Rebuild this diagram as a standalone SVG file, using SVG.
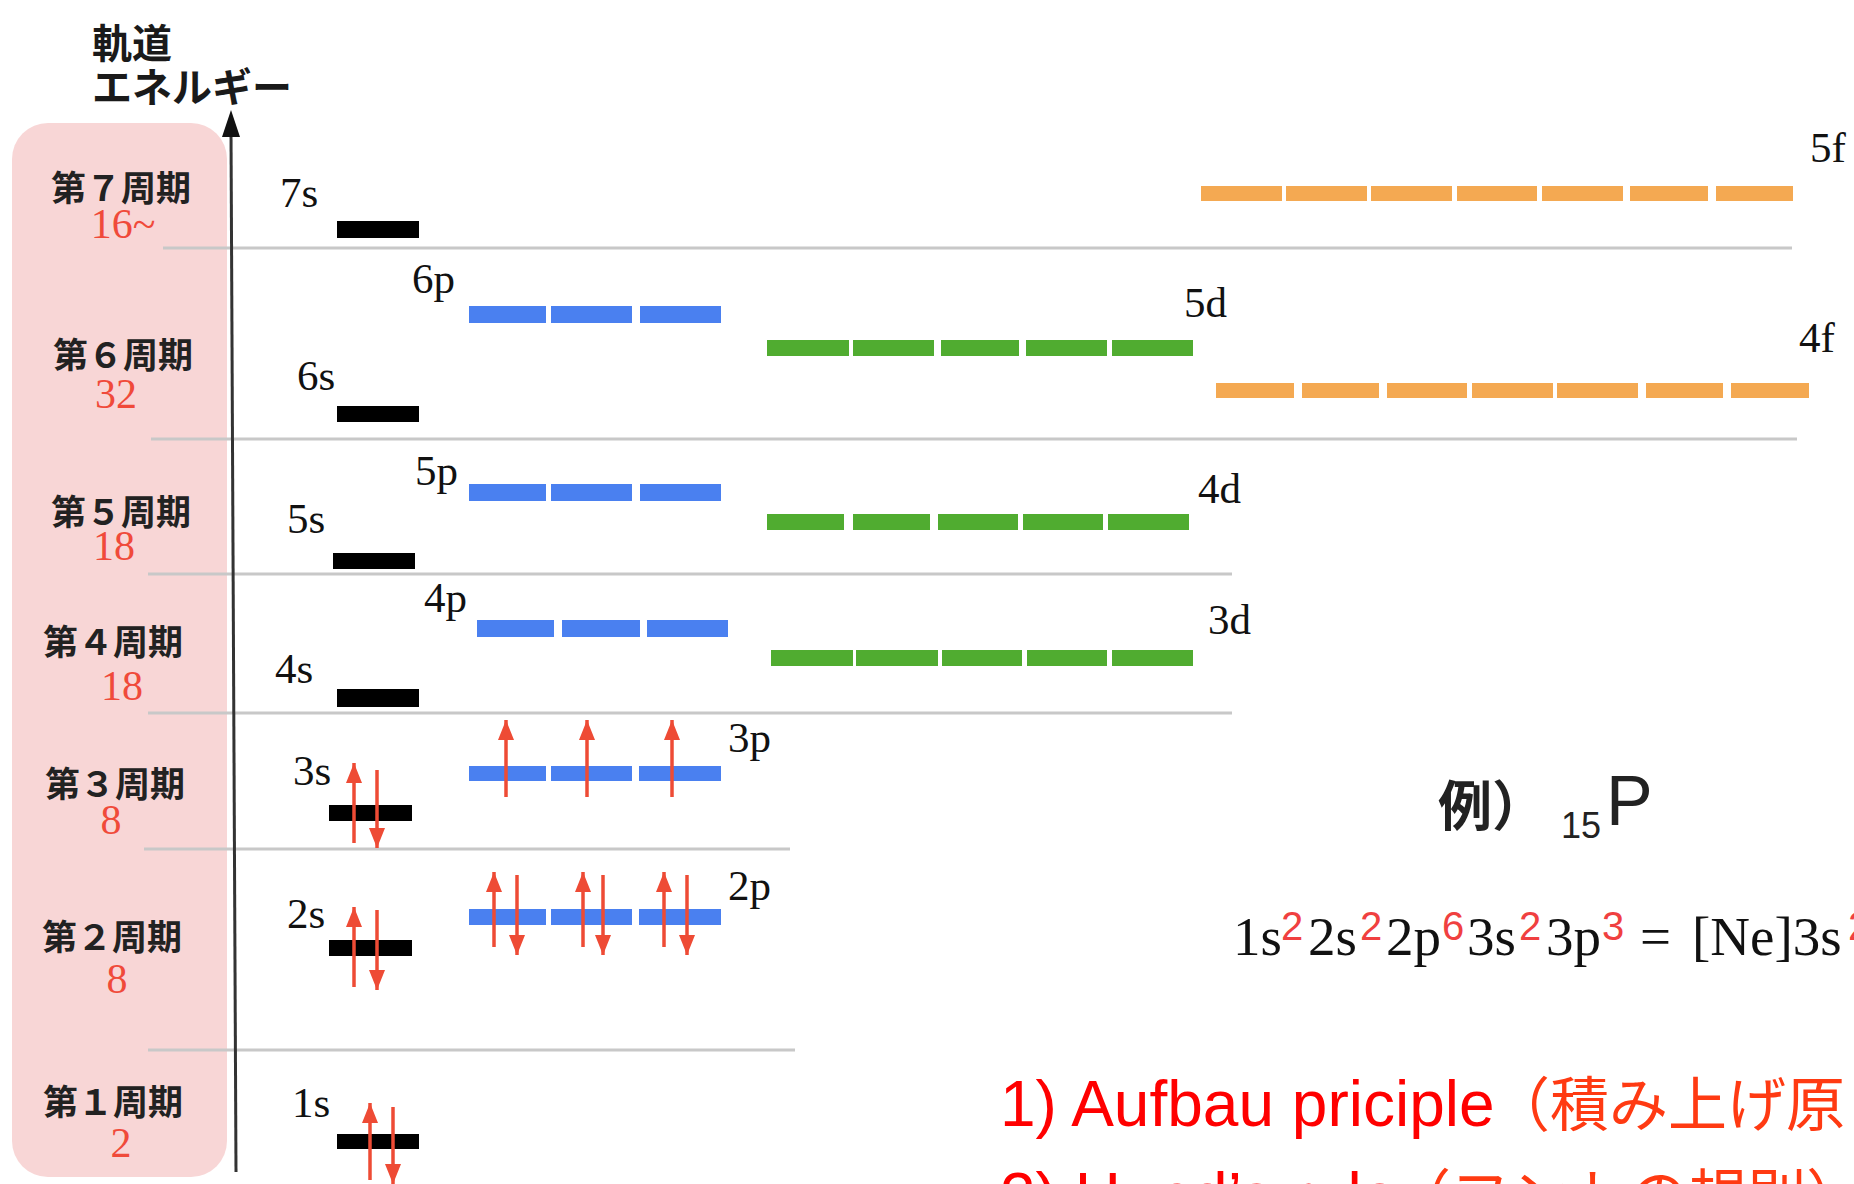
<svg xmlns="http://www.w3.org/2000/svg" width="1854" height="1184" viewBox="0 0 1854 1184">
<style>
.bg{fill:#ffffff}
.band{fill:#f8d6d6}
.sep{stroke:#c8c8c8;stroke-width:3;fill:none}
.axis{stroke:#333;stroke-width:3;fill:none}
.s{fill:#000}
.p{fill:#4a80f0}
.d{fill:#50ac30}
.f{fill:#f4a952}
.lbl{font-family:"Liberation Serif","Times New Roman",serif;font-size:43px;fill:#111}
.per{font-family:"Noto Sans CJK JP",sans-serif;font-weight:bold;font-size:35px;text-anchor:middle;fill:#222}
.num{font-family:"Liberation Serif",serif;font-size:42px;fill:#f04a3a;text-anchor:middle}
.ax{font-family:"Noto Sans CJK JP",sans-serif;font-weight:bold;font-size:40px;fill:#1a1a1a}
.e{stroke:#ee4b35;stroke-width:3.5;fill:none;marker-end:url(#ah)}
.cfg{font-family:"Liberation Serif",serif;font-size:55px;fill:#111}
.sup{font-family:"Liberation Sans",sans-serif;font-size:40px;fill:#f04040}
.rule{font-family:"Liberation Sans","Noto Sans CJK JP",sans-serif;font-size:64px;fill:#ff0000}
.jp{font-family:"Noto Sans CJK JP",sans-serif;font-size:59px;fill:#ff3a12}
</style>
<defs>
<marker id="ah" viewBox="0 0 20 16" refX="20" refY="8" markerWidth="20" markerHeight="16" markerUnits="userSpaceOnUse" orient="auto">
<path d="M0,0 L20,8 L0,16 Z" fill="#ee4b35"/>
</marker>
</defs>
<rect class="bg" x="0" y="0" width="1854" height="1184"/>

<g id="period-band">
<rect class="band" x="12" y="123" width="215" height="1054" rx="36" ry="36"/>
</g>

<g id="connectors">
<line class="sep" x1="163" y1="248" x2="1792" y2="248"/>
<line class="sep" x1="151" y1="439" x2="1797" y2="439"/>
<line class="sep" x1="148" y1="574" x2="1232" y2="574"/>
<line class="sep" x1="148" y1="713" x2="1232" y2="713"/>
<line class="sep" x1="144" y1="849" x2="790" y2="849"/>
<line class="sep" x1="148" y1="1050" x2="795" y2="1050"/>
<line class="axis" x1="231" y1="132" x2="236" y2="1172"/>
<path d="M231,110 L240,137 L222,137 Z" fill="#111"/>
</g>

<g id="axis-label">
<text class="ax" x="92" y="58">軌道</text>
<text class="ax" x="92" y="102">エネルギー</text>
</g>

<g id="period-7"><text class="per" x="121" y="201">第７周期</text><text class="num" x="123" y="238">16~</text></g>
<g id="period-6"><text class="per" x="123" y="368">第６周期</text><text class="num" x="116" y="408">32</text></g>
<g id="period-5"><text class="per" x="121" y="525">第５周期</text><text class="num" x="114" y="560">18</text></g>
<g id="period-4"><text class="per" x="113" y="655">第４周期</text><text class="num" x="122" y="700">18</text></g>
<g id="period-3"><text class="per" x="115" y="797">第３周期</text><text class="num" x="111" y="834">8</text></g>
<g id="period-2"><text class="per" x="112" y="950">第２周期</text><text class="num" x="117" y="993">8</text></g>
<g id="period-1"><text class="per" x="113" y="1115">第１周期</text><text class="num" x="121" y="1157">2</text></g>

<g id="orb-7s"><text class="lbl" x="280" y="207">7s</text><rect class="s" x="337" y="221" width="82" height="17"/></g>
<g id="orb-6s"><text class="lbl" x="297" y="390">6s</text><rect class="s" x="337" y="406" width="82" height="16"/></g>
<g id="orb-5s"><text class="lbl" x="287" y="533">5s</text><rect class="s" x="333" y="553" width="82" height="16"/></g>
<g id="orb-4s"><text class="lbl" x="275" y="683">4s</text><rect class="s" x="337" y="689" width="82" height="18"/></g>
<g id="orb-3s"><text class="lbl" x="293" y="785">3s</text><rect class="s" x="329" y="805" width="83" height="16"/>
<line class="e" x1="354" y1="843" x2="354" y2="763"/><line class="e" x1="377" y1="770" x2="377" y2="848"/></g>
<g id="orb-2s"><text class="lbl" x="287" y="928">2s</text><rect class="s" x="329" y="940" width="83" height="16"/>
<line class="e" x1="354" y1="987" x2="354" y2="907"/><line class="e" x1="377" y1="910" x2="377" y2="990"/></g>
<g id="orb-1s"><text class="lbl" x="292" y="1117">1s</text><rect class="s" x="337" y="1134" width="82" height="15"/>
<line class="e" x1="370" y1="1180" x2="370" y2="1103"/><line class="e" x1="393" y1="1107" x2="393" y2="1184"/></g>

<g id="orb-6p"><text class="lbl" x="412" y="293">6p</text>
<rect class="p" x="469" y="306" width="77" height="17"/><rect class="p" x="551" y="306" width="81" height="17"/><rect class="p" x="640" y="306" width="81" height="17"/></g>
<g id="orb-5p"><text class="lbl" x="415" y="485">5p</text>
<rect class="p" x="469" y="484" width="77" height="17"/><rect class="p" x="551" y="484" width="81" height="17"/><rect class="p" x="640" y="484" width="81" height="17"/></g>
<g id="orb-4p"><text class="lbl" x="424" y="612">4p</text>
<rect class="p" x="477" y="620" width="77" height="17"/><rect class="p" x="562" y="620" width="78" height="17"/><rect class="p" x="647" y="620" width="81" height="17"/></g>
<g id="orb-3p"><text class="lbl" x="728" y="752">3p</text>
<rect class="p" x="469" y="766" width="77" height="15"/><rect class="p" x="551" y="766" width="81" height="15"/><rect class="p" x="639" y="766" width="82" height="15"/>
<line class="e" x1="506" y1="797" x2="506" y2="720"/><line class="e" x1="587" y1="797" x2="587" y2="720"/><line class="e" x1="672" y1="797" x2="672" y2="720"/></g>
<g id="orb-2p"><text class="lbl" x="728" y="900">2p</text>
<rect class="p" x="469" y="909" width="77" height="16"/><rect class="p" x="551" y="909" width="81" height="16"/><rect class="p" x="639" y="909" width="82" height="16"/>
<line class="e" x1="494" y1="947" x2="494" y2="872"/><line class="e" x1="517" y1="875" x2="517" y2="955"/>
<line class="e" x1="583" y1="947" x2="583" y2="872"/><line class="e" x1="603" y1="875" x2="603" y2="955"/>
<line class="e" x1="664" y1="947" x2="664" y2="872"/><line class="e" x1="687" y1="875" x2="687" y2="955"/></g>

<g id="orb-5d"><text class="lbl" x="1184" y="317">5d</text>
<rect class="d" x="767" y="340" width="82" height="16"/><rect class="d" x="853" y="340" width="81" height="16"/><rect class="d" x="941" y="340" width="78" height="16"/><rect class="d" x="1026" y="340" width="81" height="16"/><rect class="d" x="1112" y="340" width="81" height="16"/></g>
<g id="orb-4d"><text class="lbl" x="1198" y="503">4d</text>
<rect class="d" x="767" y="514" width="77" height="16"/><rect class="d" x="853" y="514" width="77" height="16"/><rect class="d" x="938" y="514" width="80" height="16"/><rect class="d" x="1023" y="514" width="80" height="16"/><rect class="d" x="1108" y="514" width="81" height="16"/></g>
<g id="orb-3d"><text class="lbl" x="1208" y="634">3d</text>
<rect class="d" x="771" y="650" width="82" height="16"/><rect class="d" x="856" y="650" width="82" height="16"/><rect class="d" x="942" y="650" width="80" height="16"/><rect class="d" x="1027" y="650" width="80" height="16"/><rect class="d" x="1112" y="650" width="81" height="16"/></g>

<g id="orb-5f"><text class="lbl" x="1810" y="162">5f</text>
<rect class="f" x="1201" y="186" width="81" height="15"/><rect class="f" x="1286" y="186" width="81" height="15"/><rect class="f" x="1371" y="186" width="81" height="15"/><rect class="f" x="1457" y="186" width="80" height="15"/><rect class="f" x="1542" y="186" width="81" height="15"/><rect class="f" x="1630" y="186" width="78" height="15"/><rect class="f" x="1716" y="186" width="77" height="15"/></g>
<g id="orb-4f"><text class="lbl" x="1799" y="352">4f</text>
<rect class="f" x="1216" y="383" width="78" height="15"/><rect class="f" x="1302" y="383" width="77" height="15"/><rect class="f" x="1387" y="383" width="80" height="15"/><rect class="f" x="1472" y="383" width="81" height="15"/><rect class="f" x="1557" y="383" width="81" height="15"/><rect class="f" x="1646" y="383" width="77" height="15"/><rect class="f" x="1731" y="383" width="78" height="15"/></g>

<g id="example">
<text x="1438" y="826" style="font-family:'Noto Sans CJK JP',sans-serif;font-weight:bold;font-size:54px;fill:#222">例）</text>
<text x="1561" y="838" style="font-family:'Liberation Sans',sans-serif;font-size:36px;fill:#222">15</text>
<text x="1606" y="825" style="font-family:'Liberation Sans',sans-serif;font-size:70px;fill:#222">P</text>
<text class="cfg" y="955"><tspan x="1233">1s</tspan><tspan class="sup" x="1281" y="940">2</tspan><tspan x="1308" y="955">2s</tspan><tspan class="sup" x="1360" y="940">2</tspan><tspan x="1386" y="955">2p</tspan><tspan class="sup" x="1442" y="940">6</tspan><tspan x="1467" y="955">3s</tspan><tspan class="sup" x="1519" y="940">2</tspan><tspan x="1546" y="955">3p</tspan><tspan class="sup" x="1602" y="940">3</tspan><tspan x="1640" y="955">=</tspan><tspan x="1692" y="955">[Ne]3s</tspan><tspan class="sup" x="1848" y="940">2</tspan></text>
</g>

<g id="rules">
<text class="rule" x="1000" y="1126">1) Aufbau priciple<tspan class="jp" x="1491">（積み上げ原</tspan></text>
<text class="rule" x="1000" y="1218">2) Hund’s rule<tspan class="jp" x="1392">（フントの規則）</tspan></text>
</g>
</svg>
